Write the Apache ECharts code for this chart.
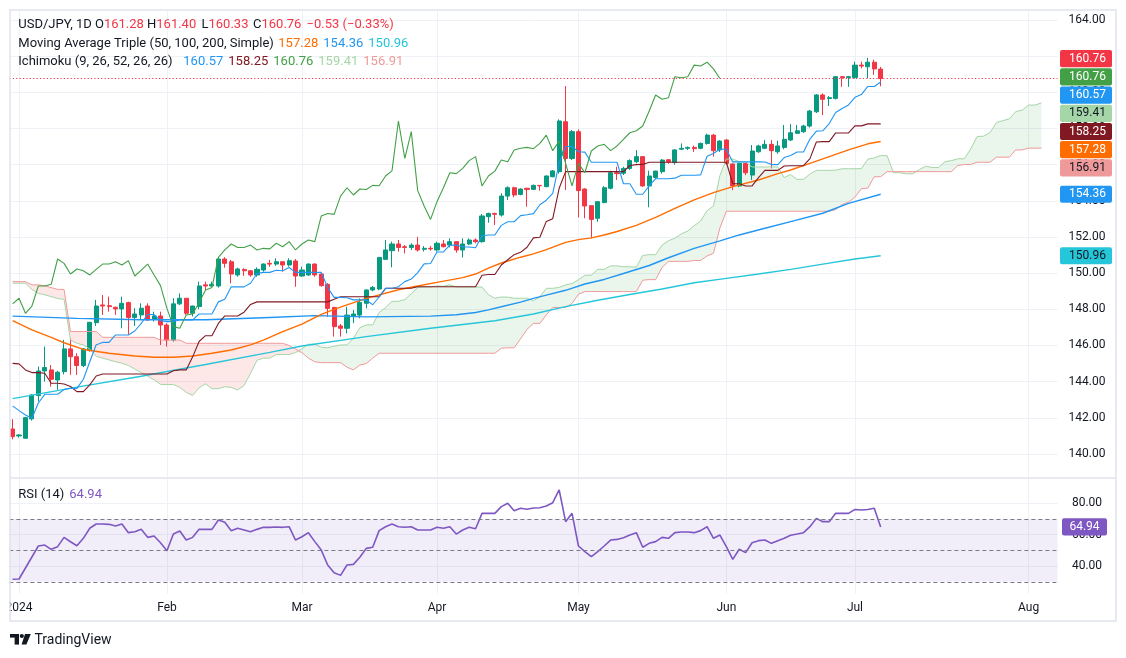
<!DOCTYPE html>
<html><head><meta charset="utf-8">
<script src="https://cdn.jsdelivr.net/npm/echarts@6.0.0/dist/echarts.min.js"></script>
<style>html,body{margin:0;padding:0;background:#fff}#c{width:1126px;height:658px}</style>
</head><body><div id="c"></div><script>
// ---------------- DATA ----------------
const categories = (function(){const out=[];const d=new Date(Date.UTC(2023,11,29));while(out.length<163){const w=d.getUTCDay();if(w!==0&&w!==6)out.push(d.toISOString().slice(0,10));d.setUTCDate(d.getUTCDate()+1);}return out;})();
const monthTicks = [[1,'2024'],[24,'Feb'],[45,'Mar'],[66,'Apr'],[88,'May'],[111,'Jun'],[131,'Jul'],[158,'Aug']];
const priceTicks = [140,142,144,146,148,150,152,154,156,158,160,162,164];
const rsiTicks = [40,60,80];
const rsiLevels = [30,50,70];

const opens = [141.38,141.00,140.87,141.94,143.23,144.59,144.65,144.09,144.55,145.81,
145.38,144.89,145.75,147.26,148.24,148.20,148.11,148.02,148.37,147.55,
147.69,148.18,147.47,147.63,147.13,146.30,148.30,148.61,147.78,148.15,
149.35,149.29,149.29,150.78,150.63,149.90,150.20,150.13,149.90,150.17,
150.54,150.50,150.63,150.45,150.67,149.84,149.90,150.50,149.95,149.38,
148.10,147.08,146.95,147.60,147.68,148.33,149.07,149.12,150.76,151.24,
151.61,151.46,151.42,151.55,151.32,151.37,151.28,151.61,151.55,151.74,
151.28,151.61,151.83,151.74,153.12,153.30,153.21,154.26,154.72,154.35,
154.69,154.63,154.85,154.78,155.33,155.61,158.37,156.34,157.82,154.65,
153.73,153.03,153.90,154.69,155.55,155.52,155.79,156.16,156.44,154.82,
155.29,155.61,156.27,156.11,156.85,156.90,156.95,156.90,157.17,157.63,
156.81,157.36,156.03,154.82,156.07,155.42,156.71,156.90,157.12,156.71,
156.95,157.36,157.73,157.82,158.13,158.92,159.85,159.65,159.66,160.86,
160.82,160.82,161.50,161.41,161.66,161.28];
const highs = [141.92,141.10,142.05,143.30,144.83,145.94,144.92,144.60,146.31,146.40,
145.57,145.85,147.30,148.52,148.79,148.70,148.15,148.70,148.42,148.06,
148.33,148.33,147.87,147.87,147.23,148.61,148.88,148.62,148.20,149.53,
149.53,149.53,150.88,150.88,150.73,150.30,150.27,150.17,150.32,150.54,
150.73,150.82,150.63,150.82,150.78,150.36,150.54,150.54,150.00,149.44,
148.14,147.19,148.14,147.96,148.60,149.10,149.29,150.87,151.83,151.74,
151.83,151.55,151.65,152.01,151.50,151.50,151.74,151.83,151.92,151.74,
151.92,151.92,151.92,153.27,153.34,153.34,154.41,154.80,154.78,154.69,
154.72,154.90,154.87,155.40,155.70,158.50,160.34,157.91,157.95,154.69,
153.73,153.95,154.81,155.66,155.88,155.88,156.29,156.80,156.44,155.66,
155.66,156.30,156.30,156.85,157.17,157.00,157.05,157.22,157.71,157.69,
157.35,157.40,156.07,156.10,156.10,157.08,157.10,157.36,157.36,157.32,
158.19,158.24,158.19,158.20,159.02,159.90,159.94,159.79,160.90,160.90,
160.90,161.69,161.69,161.90,161.80,161.40];
const lows = [140.81,140.90,140.85,141.85,142.90,144.00,143.73,143.55,144.40,144.38,
144.37,144.80,145.65,147.08,147.69,147.87,147.69,146.95,146.62,147.08,
147.41,147.37,147.32,146.03,145.94,146.21,148.24,147.69,147.60,148.00,
149.07,149.25,149.20,150.30,149.44,149.80,149.85,149.80,149.80,150.08,
150.35,150.40,150.08,150.36,149.25,149.80,149.85,149.80,149.25,147.59,
146.49,146.49,146.67,147.23,147.50,148.05,149.00,149.05,150.73,150.32,
151.19,151.09,151.28,151.19,151.19,151.24,151.19,151.42,151.42,151.13,
150.87,151.55,151.65,151.68,152.79,152.66,153.12,154.04,154.19,154.30,
153.67,154.60,154.56,154.75,155.30,155.50,154.59,156.25,153.08,153.03,
151.92,152.84,153.86,154.63,155.15,155.42,155.70,156.07,154.78,153.64,
155.20,155.50,156.05,156.00,156.80,156.80,156.70,156.85,157.10,156.44,
156.70,155.98,154.59,154.75,155.42,155.15,156.65,156.85,155.79,156.60,
156.85,157.30,157.70,157.75,158.05,158.85,158.74,159.24,159.60,160.30,
160.30,160.75,161.32,160.77,160.96,160.33];
const closes = [140.96,141.05,142.01,143.26,144.59,144.78,144.13,144.52,145.81,145.38,
144.89,145.81,147.28,148.18,148.18,148.15,148.02,148.33,147.55,147.74,
148.06,147.41,147.63,147.13,146.30,148.30,148.61,147.78,148.18,149.29,
149.29,149.38,150.78,150.54,149.95,150.23,150.13,149.90,150.21,150.50,
150.50,150.63,150.45,150.69,149.84,150.17,150.50,149.90,149.31,148.05,
147.04,146.95,147.68,147.74,148.38,149.07,149.21,150.87,151.28,151.61,
151.42,151.42,151.55,151.28,151.37,151.34,151.65,151.46,151.74,151.28,
151.61,151.83,151.74,153.16,153.30,153.25,154.26,154.72,154.32,154.65,
154.62,154.85,154.83,155.37,155.65,158.41,156.34,157.82,154.56,153.71,
152.97,153.95,154.72,155.55,155.50,155.79,156.22,156.44,154.82,155.37,
155.64,156.25,156.16,156.81,156.90,156.95,156.88,157.17,157.63,156.77,
157.30,156.07,154.82,156.07,155.55,156.75,157.03,157.12,156.77,157.03,
157.40,157.76,157.87,158.13,158.96,159.85,159.61,159.70,160.86,160.80,
160.86,161.50,161.45,161.66,161.29,160.76];

const tenkan = [142.66,142.40,142.16,141.98,142.82,143.30,143.30,143.30,143.56,143.63,
143.63,144.13,145.10,146.04,146.17,146.17,146.58,146.58,146.58,146.80,
147.22,147.71,147.71,147.37,147.32,147.32,147.41,147.41,147.41,147.74,
147.74,147.74,148.41,148.55,149.24,149.24,149.24,149.44,149.98,150.04,
150.04,150.16,150.13,150.31,150.04,150.04,150.04,150.04,150.04,149.20,
148.66,148.66,148.64,148.52,148.52,148.52,148.25,148.68,149.16,149.16,
149.25,149.53,149.67,150.03,150.51,150.53,151.17,151.17,151.55,151.55,
151.44,151.44,151.40,152.07,152.11,152.11,152.64,152.84,152.84,153.18,
153.23,153.29,153.78,154.03,154.41,156.09,157.00,157.00,156.71,156.69,
156.13,156.13,156.13,156.13,156.13,154.94,154.94,154.36,154.36,154.82,
155.22,155.22,155.22,155.25,155.41,155.41,155.41,155.43,156.46,156.61,
156.86,156.85,156.15,156.15,156.15,156.15,156.15,156.14,156.00,156.00,
156.39,156.50,156.70,156.70,157.41,157.85,157.87,158.27,158.88,159.10,
159.30,159.72,159.87,160.32,160.32,160.57];
const kijun = [145.01,144.98,144.65,144.50,144.50,144.46,143.91,143.91,143.87,143.73,
143.45,143.45,143.82,144.31,144.42,144.42,144.42,144.42,144.42,144.42,
144.42,144.42,144.42,144.42,144.42,144.60,144.65,144.65,145.37,146.22,
146.54,146.54,147.22,147.63,147.63,147.63,147.84,148.27,148.41,148.41,
148.41,148.41,148.41,148.41,148.41,148.41,148.41,148.41,148.41,148.41,
148.55,148.69,148.69,148.69,148.69,148.69,148.69,148.69,149.16,149.16,
149.16,149.16,149.16,149.25,149.25,149.25,149.25,149.25,149.25,149.25,
149.25,149.25,149.25,149.88,149.92,149.92,150.45,150.74,151.02,151.15,
151.43,151.95,151.98,152.86,153.01,154.69,155.61,155.61,155.61,155.61,
155.61,155.61,155.61,155.61,155.61,155.61,155.95,156.00,156.01,156.13,
156.13,156.13,156.13,156.13,156.13,156.13,156.13,156.13,156.13,156.13,
156.13,156.13,154.94,154.94,154.82,154.82,155.28,155.68,155.68,155.68,
155.92,155.94,155.94,155.94,156.33,157.25,157.27,157.27,157.75,157.75,
157.75,158.14,158.14,158.25,158.25,158.25];
const spanA = [149.44,149.44,149.44,149.10,148.88,148.80,148.70,148.60,148.55,146.30,
146.12,146.03,145.80,145.40,145.30,145.20,145.10,145.02,144.90,144.70,
144.50,144.30,144.10,143.85,143.84,143.84,143.69,143.41,143.24,143.66,
143.88,143.61,143.61,143.72,143.68,143.54,143.79,144.46,145.18,145.30,
145.30,145.50,145.50,145.50,145.61,145.82,146.07,146.07,145.90,145.87,
145.96,146.03,146.03,146.39,146.98,147.14,147.14,147.82,148.09,148.44,
148.44,148.54,148.86,149.20,149.23,149.23,149.29,149.27,149.36,149.23,
149.23,149.23,149.23,149.23,148.81,148.61,148.68,148.67,148.61,148.61,
148.61,148.47,148.69,149.16,149.16,149.21,149.35,149.42,149.64,149.88,
149.89,150.21,150.21,150.40,150.40,150.35,150.35,150.33,150.98,151.02,
151.02,151.55,151.79,151.93,152.17,152.33,152.62,152.88,153.45,153.71,
155.39,156.31,156.31,156.16,156.15,155.87,155.87,155.87,155.87,155.87,
155.28,155.45,155.18,155.19,155.48,155.68,155.68,155.68,155.69,155.77,
155.77,155.77,155.78,156.30,156.37,156.50,156.49,155.55,155.55,155.49,
155.49,155.72,155.91,155.84,155.84,156.16,156.22,156.32,156.32,156.87,
157.55,157.57,157.77,158.32,158.43,158.53,158.93,159.01,159.29,159.29,159.41];
const spanB = [149.53,149.53,149.53,149.35,149.35,149.30,149.20,149.10,149.10,146.77,
146.77,146.77,146.77,146.77,146.45,146.45,146.45,146.45,146.45,146.45,
146.45,146.45,146.45,146.30,146.30,146.30,146.30,146.12,146.12,146.12,
146.12,146.12,146.12,146.12,146.12,146.12,146.12,146.12,146.12,146.12,
146.12,146.12,146.12,146.00,145.80,145.60,145.30,145.10,145.05,145.05,
145.05,145.05,144.80,144.65,144.92,145.00,145.30,145.57,145.57,145.57,
145.57,145.57,145.57,145.57,145.57,145.57,145.57,145.57,145.57,145.57,
145.57,145.57,145.57,145.57,145.57,145.57,145.85,145.87,145.87,146.37,
146.89,147.22,147.22,147.69,148.10,148.10,148.10,148.32,148.83,148.98,
148.98,148.98,148.98,148.98,148.98,148.98,148.98,148.98,149.61,149.64,
149.64,150.31,150.65,150.65,150.65,150.65,150.70,150.70,150.95,151.10,
152.50,153.42,153.42,153.42,153.42,153.42,153.42,153.42,153.42,153.42,
153.42,153.42,153.42,153.42,153.42,153.42,153.42,153.42,153.51,153.79,
153.92,154.20,154.67,154.70,155.33,155.33,155.61,155.61,155.61,155.61,
155.61,155.61,155.61,155.61,155.61,155.61,155.61,155.95,156.00,156.01,
156.13,156.13,156.13,156.41,156.41,156.41,156.81,156.81,156.91,156.91,156.91];
const ma50 = [[0,147.38],[3,146.86],[6,146.45],[8,146.15],[11,145.78],[15,145.57],[19,145.42],[22,145.35],[25,145.35],[28,145.42],[31,145.57],[34,145.75],[37,146.03],[39,146.30],[42,146.77],[45,147.18],[48,147.72],[50,148.00],[52,148.24],[55,148.60],[60,149.08],[63,149.29],[66,149.49],[70,149.75],[72,149.95],[74,150.28],[76,150.56],[79,150.88],[81,151.06],[83,151.30],[86,151.70],[88,151.85],[90,151.95],[92,152.11],[94,152.30],[97,152.64],[100,153.08],[103,153.58],[106,154.05],[109,154.45],[112,154.78],[116,155.15],[119,155.50],[121,155.70],[124,156.07],[127,156.44],[130,156.81],[133,157.15],[135,157.28]];
const ma100 = [[0,147.62],[10,147.50],[20,147.42],[30,147.42],[40,147.55],[47,147.65],[55,147.58],[65,147.62],[69,147.70],[72,147.82],[74,147.97],[76,148.14],[79,148.40],[81,148.60],[83,148.78],[86,149.05],[89,149.40],[92,149.65],[95,149.98],[99,150.42],[102,150.85],[106,151.37],[110,151.78],[113,152.11],[117,152.48],[121,152.85],[126,153.31],[130,153.86],[135,154.36]];
const ma200 = [[0,143.06],[10,143.70],[20,144.30],[30,144.95],[40,145.62],[45,145.97],[55,146.49],[65,146.95],[75,147.37],[81,147.74],[86,148.15],[91,148.50],[96,148.82],[101,149.12],[106,149.47],[111,149.71],[116,149.95],[121,150.21],[126,150.50],[131,150.78],[135,150.96]];
const rsi = [31.6,31.8,38.8,45.8,52.8,53.4,50.7,52.4,58.3,55.5,
53.0,57.7,64.1,66.8,66.8,66.6,65.5,66.8,61.3,61.9,
63.4,58.3,59.2,54.9,49.8,60.4,62.4,56.6,58.3,63.4,
63.4,63.4,69.4,67.9,62.5,64.1,63.0,61.9,63.4,64.7,
64.7,64.9,64.7,65.1,56.6,58.7,61.3,55.6,50.2,40.7,
35.8,34.1,40.7,41.1,45.6,51.3,52.0,62.6,65.1,66.8,
65.1,64.7,65.1,63.0,63.0,63.0,64.7,64.1,65.1,60.4,
63.0,64.7,63.8,73.6,73.6,73.6,77.9,80.0,75.3,76.8,
76.2,77.0,77.2,78.3,80.4,88.5,68.3,73.6,52.8,49.2,
46.0,49.2,52.8,56.6,57.0,58.1,59.8,61.3,52.0,54.5,
55.6,58.3,57.7,61.3,61.7,61.7,61.3,62.6,65.1,57.7,
59.8,52.4,44.3,50.7,48.6,54.9,56.2,56.6,54.5,56.2,
57.7,59.6,60.4,61.3,65.1,70.4,68.3,68.3,73.6,73.6,
73.6,76.1,75.7,76.1,76.8,64.94];
const CHIKOU_SHIFT = 25;

// ---------------- BUILD ----------------
const C = {up:'#089981',down:'#F23645',text:'#131722',grid:'#EEF1F6',frame:'#E0E3EB'};
const FONT = 'Roboto, "Noto Sans", sans-serif';
const last = a => a[a.length-1];
const lastV = a => { const l = last(a); return Array.isArray(l) ? l[1] : l; };
const candleData = opens.map((o,i)=>[o, closes[i], lows[i], highs[i]]);
const chikou = closes.slice(CHIKOU_SHIFT).map((v,k)=>[k, v]);
const cloudLow = spanA.map((a,i)=>Math.min(a, spanB[i]));
const cloudUp = spanA.map((a,i)=>Math.max(a-spanB[i], 0));
const cloudDown = spanA.map((a,i)=>Math.max(spanB[i]-a, 0));
const tickMap = new Map(monthTicks);

const GL = 9.4, GW = 1048.1;
const lineS = (name, data, color, width, z) => ({type:'line', name, data, xAxisIndex:0, yAxisIndex:0, showSymbol:false, symbol:'none', silent:true, z:z||3, lineStyle:{color, width}, animation:false});
const gridMark = (axisIdx, yTicks) => ({type:'line', data:[], xAxisIndex:axisIdx, yAxisIndex:axisIdx, silent:true, z:0,
  markLine:{silent:true, z:0, symbol:['none','none'], animation:false, label:{show:false}, emphasis:{disabled:true},
    lineStyle:{color:C.grid, width:1, type:'solid'},
    data:[...yTicks.map(v=>({yAxis:v})), ...monthTicks.map(t=>({xAxis:t[0]}))]}});

const option = {
  animation:false,
  backgroundColor:'#ffffff',
  grid:[{left:GL, width:GW, top:10.85, height:465.75},{left:GL, width:GW, top:478.5, height:115}],
  xAxis:[
    {type:'category', gridIndex:0, data:categories, boundaryGap:true, axisLine:{show:false}, axisTick:{show:false}, axisLabel:{show:false}, splitLine:{show:false}},
    {type:'category', gridIndex:1, data:categories, boundaryGap:true, axisLine:{show:false}, axisTick:{show:false}, splitLine:{show:false},
      axisLabel:{show:true, interval:(i)=>tickMap.has(i), formatter:(v,i)=>tickMap.get(i)||'', color:C.text, fontSize:12, fontFamily:FONT, margin:8}}
  ],
  yAxis:[
    {type:'value', gridIndex:0, position:'right', min:138.75, max:164.5, scale:true, axisLine:{show:false}, axisTick:{show:false}, splitLine:{show:false},
      axisLabel:{customValues:priceTicks, formatter:v=>v.toFixed(2), color:C.text, fontSize:12, fontFamily:FONT, align:'center', margin:29.5}},
    {type:'value', gridIndex:1, position:'right', min:22.55, max:95.8, axisLine:{show:false}, axisTick:{show:false}, splitLine:{show:false},
      axisLabel:{customValues:rsiTicks, formatter:v=>v.toFixed(2), color:C.text, fontSize:12, fontFamily:FONT, align:'center', margin:29.5}}
  ],
  series:[
    gridMark(0, priceTicks),
    gridMark(1, rsiTicks),
    {type:'line', name:'cloudLow', data:cloudLow, stack:'cloud', xAxisIndex:0, yAxisIndex:0, symbol:'none', silent:true, z:1, lineStyle:{opacity:0}},
    {type:'line', name:'cloudUp', data:cloudUp, stack:'cloud', xAxisIndex:0, yAxisIndex:0, symbol:'none', silent:true, z:1, lineStyle:{opacity:0}, areaStyle:{color:'rgba(67,160,71,0.11)', opacity:1}},
    {type:'line', name:'cloudDown', data:cloudDown, stack:'cloud', xAxisIndex:0, yAxisIndex:0, symbol:'none', silent:true, z:1, lineStyle:{opacity:0}, areaStyle:{color:'rgba(244,67,54,0.12)', opacity:1}},
    {type:'candlestick', name:'USD/JPY', data:candleData, xAxisIndex:0, yAxisIndex:0, barWidth:4.6, silent:true, z:2,
      itemStyle:{color:C.up, color0:C.down, borderColor:C.up, borderColor0:C.down, borderWidth:1},
      markLine:{silent:true, symbol:['none','none'], animation:false, label:{show:false}, emphasis:{disabled:true},
        lineStyle:{color:C.down, width:1, type:[1.2,2.2]}, data:[{yAxis:last(closes)}]}},
    lineS('spanA', spanA, '#A5D6A7', 1),
    lineS('spanB', spanB, '#EF9A9A', 1),
    lineS('ma200', ma200, '#26C6DA', 1.4),
    lineS('ma100', ma100, '#2196F3', 1.4),
    lineS('ma50', ma50, '#FF6D00', 1.4),
    lineS('kijun', kijun, '#801922', 1.1),
    lineS('tenkan', tenkan, '#2196F3', 1.1),
    lineS('chikou', chikou, '#43A047', 1.1),
    {type:'line', name:'RSI', data:rsi, xAxisIndex:1, yAxisIndex:1, symbol:'none', silent:true, z:3, lineStyle:{color:'#7E57C2', width:1.6},
      markArea:{silent:true, itemStyle:{color:'rgba(126,87,194,0.1)'}, data:[[{yAxis:rsiLevels[0]},{yAxis:rsiLevels[2]}]]},
      markLine:{silent:true, symbol:['none','none'], animation:false, label:{show:false}, emphasis:{disabled:true},
        lineStyle:{color:'#787B86', width:1, type:[4,3]}, data:rsiLevels.map(v=>({yAxis:v}))}}
  ]
};
const chart = echarts.init(document.getElementById('c'));
chart.setOption(option);

// ---------------- TEXT & TAGS ----------------
const f2 = v => v.toFixed(2);
const n = closes.length;
const chg = closes[n-1]-closes[n-2];
const sgn = v => (v<0?'\u2212':'+') + Math.abs(v).toFixed(2);
const txt = (x, y, rich, text, extra) => Object.assign({type:'text', x, y, z:100, silent:true,
  style:{text, rich, fontSize:13, fontFamily:FONT, verticalAlign:'middle', fill:C.text}}, extra||{});
const R = {t:{fill:C.text, fontSize:13, fontFamily:FONT}, r:{fill:C.down, fontSize:13, fontFamily:FONT}};
const g = [];
g.push({type:'rect', z:90, silent:true, shape:{x:0,y:594,width:9.6,height:26}, style:{fill:'#fff'}});
g.push({type:'rect', z:95, silent:true, shape:{x:10,y:10,width:1106,height:611}, style:{fill:'none', stroke:C.frame, lineWidth:1.5}});
g.push({type:'line', z:95, silent:true, shape:{x1:10,y1:478,x2:1116,y2:478}, style:{stroke:C.frame, lineWidth:1.5}});
g.push(txt(18.3, 24.5, R, '{t|USD/JPY, 1D}'));
g.push(txt(95, 24.5, R, '{t|O}{r|'+f2(last(opens))+'}'));
g.push(txt(147, 24.5, R, '{t|H}{r|'+f2(last(highs))+'}'));
g.push(txt(201.5, 24.5, R, '{t|L}{r|'+f2(last(lows))+'}'));
g.push(txt(253, 24.5, R, '{t|C}{r|'+f2(last(closes))+'}'));
g.push(txt(306.5, 24.5, R, '{r|'+sgn(chg)+' ('+sgn(chg/closes[n-2]*100)+'%)}'));
g.push(txt(18.3, 43.5, null, 'Moving Average Triple (50, 100, 200, Simple)'));
[[278.3,lastV(ma50),'#FF6D00'],[323.3,lastV(ma100),'#2196F3'],[368.3,lastV(ma200),'#26C6DA']].forEach(a=>g.push(txt(a[0],43.5,null,f2(a[1]),{style:{text:f2(a[1]),fontSize:13,fontFamily:FONT,verticalAlign:'middle',fill:a[2]}})));
g.push(txt(18.3, 62, null, 'Ichimoku (9, 26, 52, 26, 26)'));
[[183.3,last(tenkan),'#2196F3'],[228.3,last(kijun),'#801922'],[273.3,last(closes),'#43A047'],[318.3,last(spanA),'#A5D6A7'],[363.3,last(spanB),'#EF9A9A']].forEach(a=>g.push(txt(a[0],62,null,'',{style:{text:f2(a[1]),fontSize:13,fontFamily:FONT,verticalAlign:'middle',fill:a[2]}})));
g.push(txt(18.3, 495, null, '', {style:{text:'RSI (14)',fontSize:13,fontFamily:FONT,verticalAlign:'middle',fill:C.text}}));
g.push(txt(69.3, 495, null, '', {style:{text:f2(last(rsi)),fontSize:13,fontFamily:FONT,verticalAlign:'middle',fill:'#7E57C2'}}));

// price tags
const tags = [
  {v:last(closes), bg:'#F23645', fg:'#fff'},
  {v:last(closes), bg:'#43A047', fg:'#fff'},
  {v:last(tenkan), bg:'#2196F3', fg:'#fff'},
  {v:last(spanA), bg:'#A5D6A7', fg:C.text},
  {v:last(kijun), bg:'#801922', fg:'#fff'},
  {v:lastV(ma50), bg:'#FF6D00', fg:'#fff'},
  {v:last(spanB), bg:'#EF9A9A', fg:C.text},
  {v:lastV(ma100), bg:'#2196F3', fg:'#fff'},
  {v:lastV(ma200), bg:'#26C6DA', fg:C.text}
];
tags.forEach(t=>{ t.y = chart.convertToPixel({yAxisIndex:0}, t.v); });
const H = 18.2;
const sorted = tags.slice().sort((a,b)=>a.y-b.y);
const groups = [];
sorted.forEach(it=>{
  groups.push({items:[it], lo:it.y, hi:it.y});
  while(groups.length>1){
    const a = groups[groups.length-2], b = groups[groups.length-1];
    const ac=(a.lo+a.hi)/2, bc=(b.lo+b.hi)/2;
    if (bc - b.items.length*H/2 < ac + a.items.length*H/2){
      a.items = a.items.concat(b.items); a.lo=Math.min(a.lo,b.lo); a.hi=Math.max(a.hi,b.hi); groups.pop();
    } else break;
  }
});
groups.forEach(gr=>{ const c=(gr.lo+gr.hi)/2, m=gr.items.length; gr.items.forEach((it,k)=>{ it.cy = c + (k-(m-1)/2)*H; }); });
tags.forEach(t=>{
  g.push({type:'rect', z:110, silent:true, shape:{x:1060, y:t.cy-8.6, width:52, height:17.2, r:2}, style:{fill:t.bg}});
  g.push({type:'text', z:111, silent:true, x:1087.5, y:t.cy, style:{text:f2(t.v), fill:t.fg, fontSize:12, fontFamily:FONT, align:'center', verticalAlign:'middle'}});
});
const ry = chart.convertToPixel({yAxisIndex:1}, last(rsi));
g.push({type:'rect', z:110, silent:true, shape:{x:1062, y:ry-8.6, width:45, height:17.2, r:2}, style:{fill:'#7E57C2'}});
g.push({type:'text', z:111, silent:true, x:1084.5, y:ry, style:{text:f2(last(rsi)), fill:'#fff', fontSize:12, fontFamily:FONT, align:'center', verticalAlign:'middle'}});

// TradingView logo
g.push({type:'rect', z:100, silent:true, shape:{x:10,y:634,width:9,height:3.6}, style:{fill:C.text}});
g.push({type:'rect', z:100, silent:true, shape:{x:14.6,y:634,width:4.4,height:10.6}, style:{fill:C.text}});
g.push({type:'circle', z:100, silent:true, shape:{cx:21.8,cy:636,r:2.1}, style:{fill:C.text}});
g.push({type:'polygon', z:100, silent:true, shape:{points:[[25,634],[30.8,634],[26.4,644.6],[21.6,644.6]]}, style:{fill:C.text}});
g.push({type:'text', z:100, silent:true, x:34.5, y:640, style:{text:'TradingView', fill:C.text, fontSize:14, fontFamily:FONT, verticalAlign:'middle'}});

chart.setOption({graphic:g});
</script></body></html>
